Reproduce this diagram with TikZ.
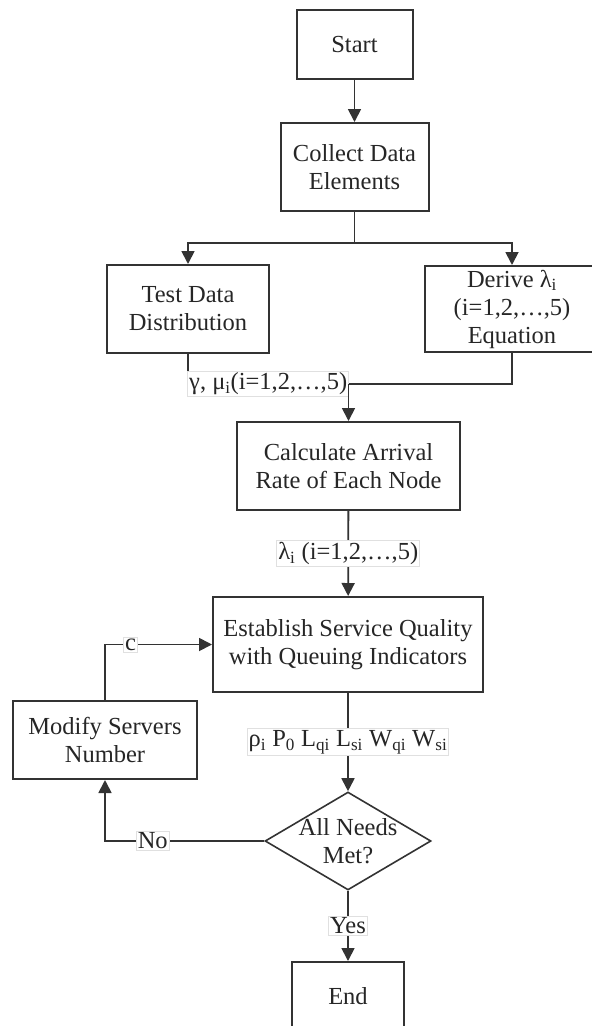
\documentclass[tikz,border=0pt]{standalone}
\usepackage{fontspec}
\setmainfont{Liberation Serif}
\usetikzlibrary{arrows.meta,shapes.geometric}

\tikzset{
  box/.style={draw=black!80, line width=2pt, align=center, inner sep=2pt},
  decision/.style={draw=black!80, diamond, line width=1.6pt, inner sep=0pt},
  link/.style={draw=black!80, line width=1.8pt},
  flow/.style={link, -{Triangle[length=13pt,width=13pt]}},
  tag/.style={draw=black!12, fill=white, line width=0.8pt, inner sep=1.5pt},
}

\begin{document}
\begin{tikzpicture}[x=1pt, y=-1pt, font=\fontsize{24.5}{28}\selectfont, text=black!85]
    \useasboundingbox (0,0) rectangle (592,1026);
    \clip (0,0) rectangle (592,1026);

    \node[box, minimum width=116pt, minimum height=69pt] (start) at (354.5,44.5) {Start};
    \node[box, minimum width=148pt, minimum height=88pt] (collect) at (354.5,167) {Collect Data\\Elements};
    \node[box, minimum width=162pt, minimum height=88pt] (test) at (188,309) {Test Data\\Distribution};
    \node[box, minimum width=174pt, minimum height=86pt] (derive) at (512,309) {Derive λ\textsubscript{i}\\(i=1,2,…,5)\\Equation};
    \node[box, minimum width=223pt, minimum height=88pt] (calc) at (348.5,466) {Calculate Arrival\\Rate of Each Node};
    \node[box, minimum width=270pt, minimum height=95pt] (estab) at (348,644.5) {Establish Service Quality\\with Queuing Indicators};
    \node[box, minimum width=184pt, minimum height=78pt] (modify) at (105,740) {Modify Servers\\Number};
    \node[decision, minimum width=166pt, minimum height=98pt] (dec) at (348,841) {};
    \node[align=center] (dectext) at (dec) {All Needs\\Met?};
    \node[box, minimum width=112pt, minimum height=69pt] (finish) at (348,996.5) {End};

    \coordinate (split) at (354.5,243);
    \coordinate (merge) at (348.5,384);

    \draw[flow] (start) -- (collect);
    \draw[link] (collect) -- (split);
    \draw[flow] (split) -| (test);
    \draw[flow] (split) -| (derive);
    \draw[link] (derive.south) |- (merge);
    \draw[link] (test.south) |- (merge) node[tag, pos=0.75] {γ, μ\textsubscript{i}(i=1,2,…,5)};
    \draw[flow] (merge) -- (calc);
    \draw[flow] (calc) -- (estab) node[tag, midway] {λ\textsubscript{i} (i=1,2,…,5)};
    \draw[flow] (estab) -- (dec) node[tag, midway] {ρ\textsubscript{i} P\textsubscript{0} L\textsubscript{qi} L\textsubscript{si} W\textsubscript{qi} W\textsubscript{si}};
    \draw[flow] (dec) -- (finish) node[tag, midway] {Yes};
    \draw[flow] (dec.west) -| (modify.south) node[tag, pos=0.35] {No};
    \draw[flow] (modify.north) |- (estab.west) node[tag, pos=0.62] {c};
\end{tikzpicture}
\end{document}
